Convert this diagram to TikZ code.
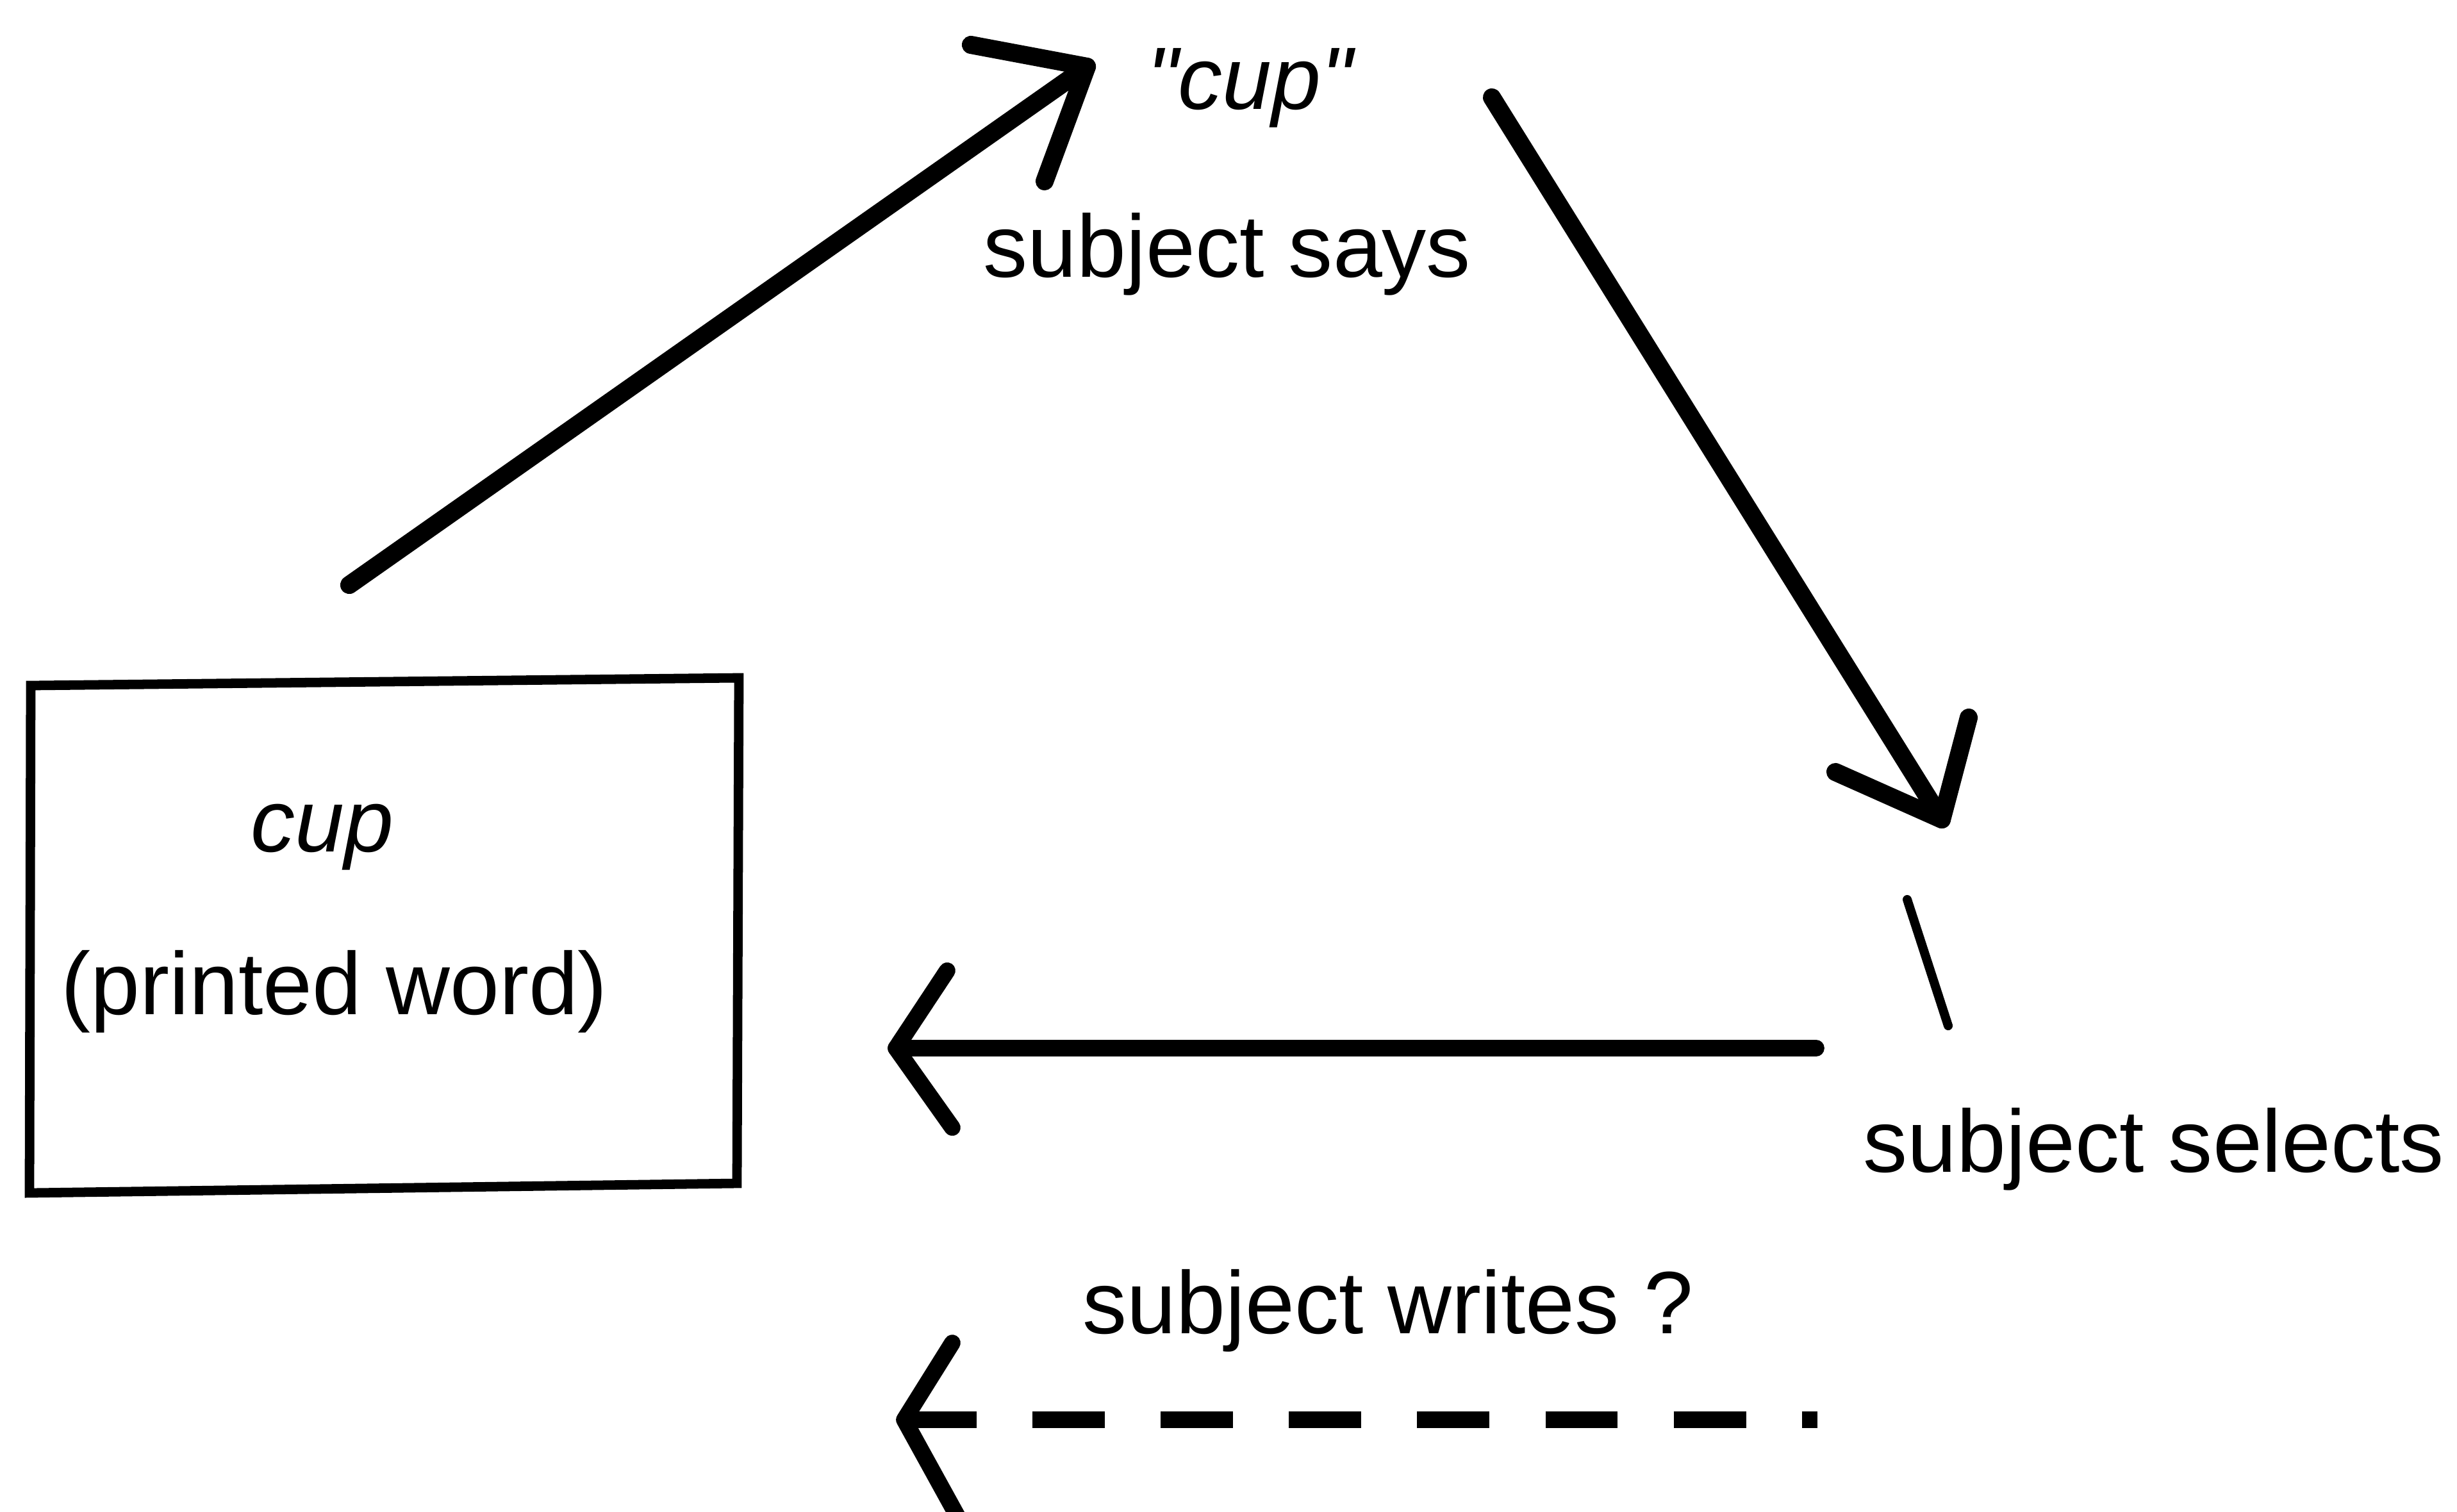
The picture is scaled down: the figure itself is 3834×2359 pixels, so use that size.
\documentclass[tikz,border=0pt]{standalone}
\usepackage{fontspec}
\setmainfont{Liberation Sans}
\newcommand{\straightquote}{\XeTeXglyph\XeTeXcharglyph"22\relax}
\begin{document}
\begin{tikzpicture}[x=0.01cm,y=-0.01cm,
  lbl/.style={anchor=base,inner sep=0pt,font=\fontsize{39.3}{47}\selectfont},
  arrowline/.style={line width=8pt,line cap=round,line join=round},
  flatarrow/.style={line width=7.3pt,line cap=round,line join=round},
  boxline/.style={line width=4.2pt,line join=miter},
  thinline/.style={line width=4pt,line cap=round},
  dashline/.style={line width=7.3pt,line cap=butt,dash pattern=on 32.1pt off 24.8pt}]
\useasboundingbox (0,0) rectangle (3834,2359);

% box with printed word
\coordinate (boxtl) at (48,1070);
\coordinate (boxtr) at (1153,1058);
\coordinate (boxbr) at (1150,1847);
\coordinate (boxbl) at (46,1862);
\draw[boxline] (boxtl) -- (boxtr) -- (boxbr) -- (boxbl) -- cycle;
\node[lbl] (cupword) at (503,1329) {\itshape cup};
\node[lbl] (printed) at (522,1583) {(printed word)};

% labels
\node[lbl] (cupsaid) at (1950,170) {\itshape \straightquote cup\straightquote};
\node[lbl] (says) at (1915,432) {subject says};
\node[lbl] (selects) at (3361,1829) {subject selects};
\node[lbl] (writes) at (2166,2081) {subject writes ?};

% arrow 1: printed word -> says
\coordinate (s1) at (545,913);
\coordinate (t1) at (1696,104);
\coordinate (b1a) at (1515,70);
\coordinate (b1b) at (1630,283);
\draw[arrowline] (s1) -- (t1);
\draw[arrowline] (b1a) -- (t1) -- (b1b);

% arrow 2: says -> selects
\coordinate (s2) at (2328,152);
\coordinate (t2) at (3030,1279);
\coordinate (b2a) at (2864,1205);
\coordinate (b2b) at (3072,1120);
\draw[arrowline] (s2) -- (t2);
\draw[arrowline] (b2a) -- (t2) -- (b2b);

% small mark above "subject selects"
\coordinate (m1) at (2976,1404);
\coordinate (m2) at (3040,1601);
\draw[thinline] (m1) -- (m2);

% arrow 3: selects -> printed word
\coordinate (s3) at (2834,1636);
\coordinate (t3) at (1398,1636);
\coordinate (b3a) at (1478,1515);
\coordinate (b3b) at (1486,1760);
\draw[flatarrow] (s3) -- (t3);
\draw[flatarrow] (b3a) -- (t3) -- (b3b);

% arrow 4: dashed, subject writes ?
\coordinate (s4) at (2836,2216);
\coordinate (t4) at (1411,2216);
\coordinate (b4a) at (1486,2096);
\coordinate (b4b) at (1508,2392);
\draw[dashline] (t4) -- (s4);
\draw[flatarrow] (b4a) -- (t4) -- (b4b);
\end{tikzpicture}
\end{document}
